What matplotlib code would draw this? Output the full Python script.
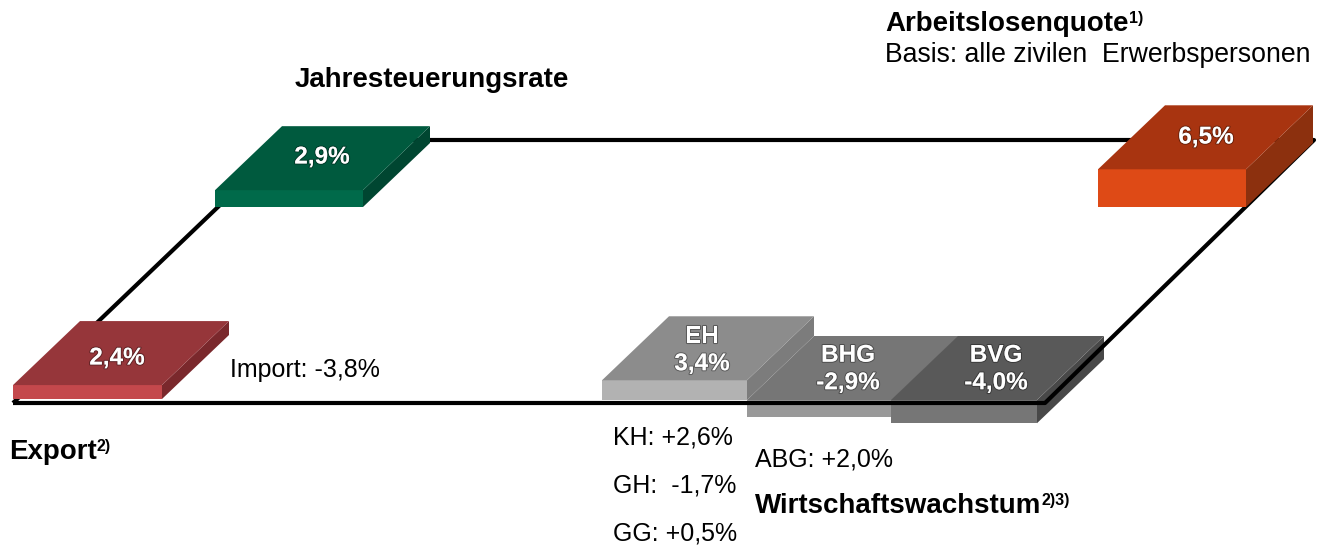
import matplotlib
matplotlib.use("Agg")
import matplotlib.pyplot as plt
import matplotlib.patheffects as pe

plt.rcParams['font.family'] = ['Liberation Sans', 'DejaVu Sans']

# ---- data ----
slab_names = ["Export", "Jahresteuerungsrate", "Arbeitslosenquote", "EH", "BHG", "BVG"]
slab_values = [2.4, 2.9, 6.5, 3.4, -2.9, -4.0]
slab_labels = ["2,4%", "2,9%", "6,5%", "EH\n3,4%", "BHG\n-2,9%", "BVG\n-4,0%"]
side_notes = ["Import: -3,8%", "KH: +2,6%", "GH:  -1,7%", "GG: +0,5%", "ABG: +2,0%"]

# ---- layout (pixel space) ----
W, H = 1334, 546
fig = plt.figure(figsize=(W / 100, H / 100), dpi=100)
ax = fig.add_axes([0, 0, 1, 1])
ax.set_xlim(0, W)
ax.set_ylim(H, 0)
ax.axis("off")

PX_PER_PCT = 5.8
DX, DY = 67, 64
# base point (front-left corner at zero level), width, colours (top, front, side)
slab_layout = {
    "Export": ((13, 399), 149, ("#96363a", "#c4484c", "#7a282c")),
    "Jahresteuerungsrate": ((215, 207), 148, ("#005a3e", "#006a4a", "#004631")),
    "Arbeitslosenquote": ((1098, 207), 148, ("#a83410", "#de4a16", "#8c300e")),
    "EH": ((602, 400), 145, ("#8c8c8c", "#b2b2b2", "#7c7c7c")),
    "BHG": ((747, 400), 145, ("#767676", "#999999", "#6a6a6a")),
    "BVG": ((891, 400), 146, ("#595959", "#767676", "#484848")),
}
label_pos = {
    "Export": (117, 358), "Jahresteuerungsrate": (322, 157),
    "Arbeitslosenquote": (1206, 137), "EH": (702, 350),
    "BHG": (848, 369), "BVG": (996, 369),
}


def draw_slab(name, value, z):
    (x0, base), w, (ctop, cfront, cside) = slab_layout[name]
    h = abs(value) * PX_PER_PCT
    if value >= 0:
        yt, yb = base - h, base
    else:
        yt, yb = base, base + h
    top = [(x0, yt), (x0 + w, yt), (x0 + w + DX, yt - DY), (x0 + DX, yt - DY)]
    front = [(x0, yt), (x0 + w, yt), (x0 + w, yb), (x0, yb)]
    side = [(x0 + w, yt), (x0 + w + DX, yt - DY), (x0 + w + DX, yb - DY), (x0 + w, yb)]
    for poly, c in ((side, cside), (front, cfront), (top, ctop)):
        xs, ys = zip(*poly)
        ax.fill(xs, ys, color=c, lw=0, zorder=z)


# grey slabs (behind the frame line)
draw_slab("BHG", slab_values[4], 2)
draw_slab("BVG", slab_values[5], 2.1)
draw_slab("EH", slab_values[3], 2.2)

# frame line
frame_x = [13, 288, 1314, 1045, 13]
frame_y = [403, 140, 140, 403, 403]
ax.plot(frame_x, frame_y, color="black", lw=3, solid_joinstyle="round",
        solid_capstyle="butt", zorder=3)

# coloured slabs (on top of frame)
for i, n in enumerate(slab_names[:3]):
    draw_slab(n, slab_values[i], 4 + i * 0.1)

lab_fx = [pe.withStroke(linewidth=1.5, foreground=(0, 0, 0, 0.35))]
for n, lab in zip(slab_names, slab_labels):
    x, y = label_pos[n]
    ax.text(x, y, lab, ha="center", va="center", color="white", fontsize=17.5,
            fontweight="bold", linespacing=1.25, zorder=6, path_effects=lab_fx)

# headings
bold = dict(fontsize=20, fontweight="bold", color="black", va="baseline", ha="left", zorder=6)
reg = dict(fontsize=18, color="black", va="baseline", ha="left", zorder=6)
sup = dict(fontsize=11.5, fontweight="bold", color="black", va="top", ha="left", zorder=6)


def heading(x, y, text, sup_text=None):
    t = ax.text(x, y, text, **bold)
    if sup_text:
        ax.annotate(sup_text, xy=(1, 1), xycoords=t, xytext=(0, 0),
                    textcoords="offset points", **sup)
    return t


heading(295, 87, "Jahresteuerungsrate")
heading(885, 31, "Arbeitslosenquote", "1)")
ax.text(885, 62, "Basis: alle zivilen  Erwerbspersonen", fontsize=19.2, color="black",
        va="baseline", ha="left", zorder=6)
heading(9, 459, "Export", "2)")
heading(755, 513, "Wirtschaftswachstum", "2)3)")

# notes
note_pos = [(230, 377), (613, 445), (613, 492), (613, 540), (755, 467)]
for t, (x, y) in zip(side_notes, note_pos):
    ax.text(x, y, t, **reg)

fig.savefig("out.png", dpi=100)
